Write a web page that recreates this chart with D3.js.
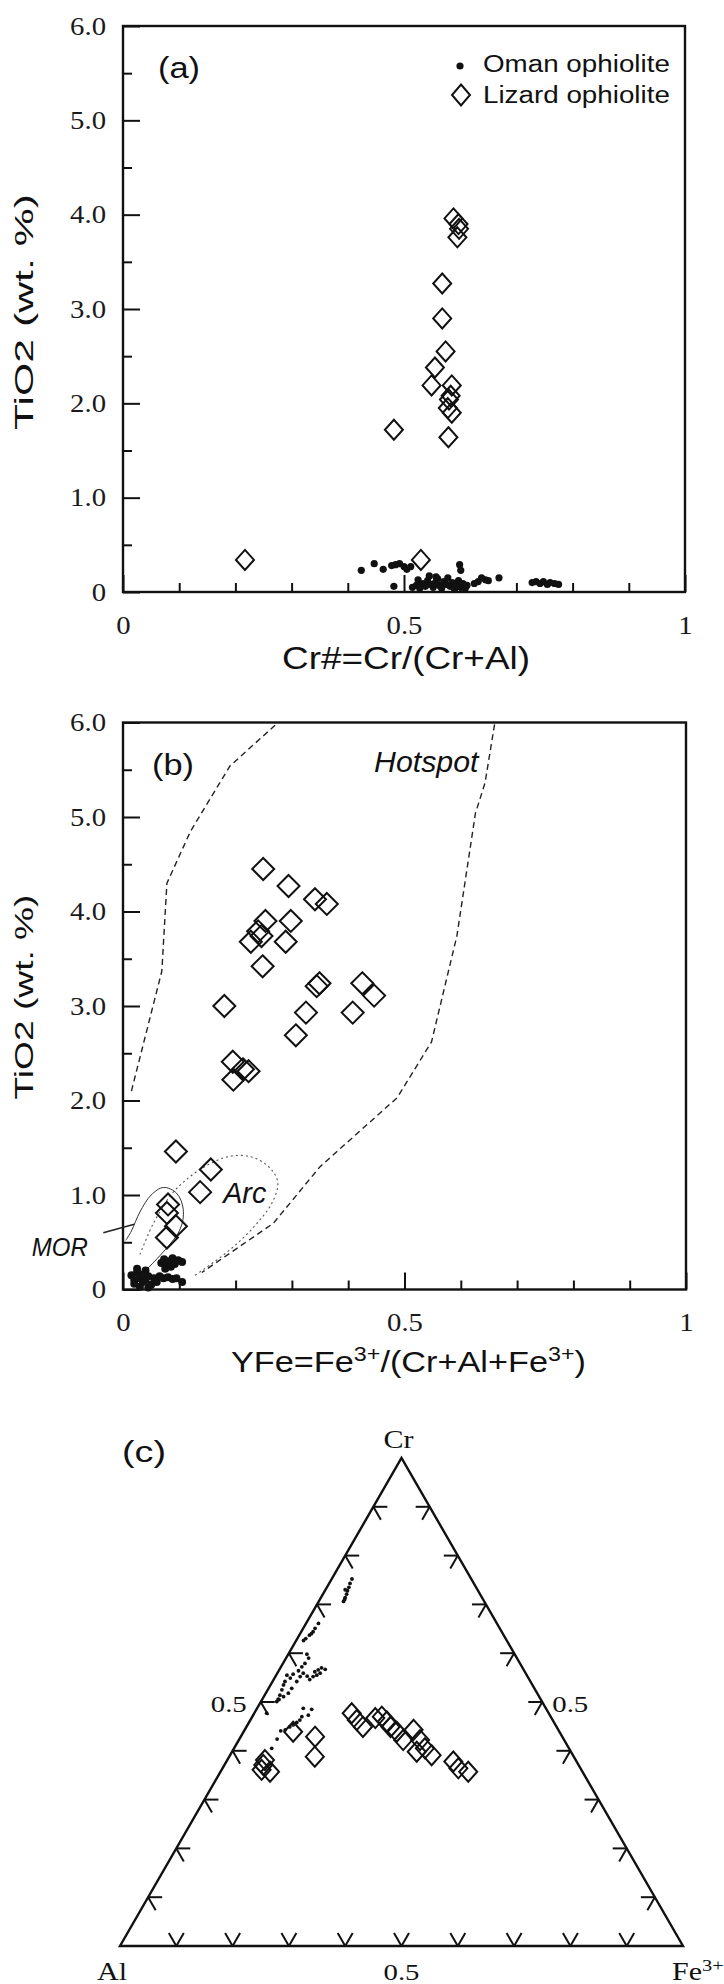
<!DOCTYPE html>
<html>
<head>
<meta charset="utf-8">
<script src="https://cdn.jsdelivr.net/npm/d3@7"></script>
<style>
  body { margin: 0; background: #fff; }
  svg { display: block; }
</style>
</head>
<body>
<script>
// ---- data ----
var yTicksMajor = [0, 1, 2, 3, 4, 5, 6];
var yTicksMinor = [0.5, 1.5, 2.5, 3.5, 4.5, 5.5];
var xTicksMajor = [0, 0.5, 1];
var xTicksMinor = [0.1, 0.2, 0.3, 0.4, 0.6, 0.7, 0.8, 0.9];
var ternTicks = [0.1, 0.2, 0.3, 0.4, 0.5, 0.6, 0.7, 0.8, 0.9];

// (a) Cr# vs TiO2
var omanA = [[0.424,0.23],[0.447,0.30],[0.463,0.24],[0.478,0.28],[0.485,0.29],[0.492,0.30],[0.500,0.27],[0.505,0.24],[0.512,0.27],[0.482,0.06],
  [0.515,0.05],[0.522,0.07],[0.528,0.04],[0.533,0.09],[0.538,0.06],[0.542,0.12],[0.547,0.08],[0.552,0.05],[0.556,0.10],[0.560,0.14],
  [0.563,0.07],[0.567,0.04],[0.571,0.11],[0.575,0.08],[0.578,0.15],[0.582,0.06],[0.586,0.10],[0.590,0.03],[0.594,0.08],[0.597,0.12],
  [0.601,0.05],[0.605,0.09],[0.609,0.04],[0.612,0.07],[0.599,0.29],[0.601,0.23],[0.545,0.17],[0.525,0.13],[0.557,0.16],
  [0.625,0.09],[0.632,0.11],[0.638,0.15],[0.645,0.13],[0.650,0.12],[0.669,0.15],
  [0.728,0.10],[0.735,0.11],[0.742,0.09],[0.748,0.11],[0.755,0.08],[0.760,0.10],[0.768,0.09],[0.775,0.08]];
var lizardA = [[0.217,0.34],[0.482,1.72],[0.530,0.34],[0.588,3.96],[0.597,3.90],[0.598,3.85],[0.595,3.76],[0.568,3.27],
  [0.568,2.90],[0.574,2.55],[0.555,2.38],[0.549,2.19],[0.585,2.19],[0.580,2.04],[0.578,1.95],[0.585,1.90],[0.579,1.64],[0.583,2.08]];

// (b) YFe vs TiO2
var omanB = [[0.015,0.15],[0.02,0.10],[0.025,0.18],[0.03,0.12],[0.035,0.08],[0.04,0.20],[0.045,0.14],[0.05,0.05],[0.02,0.06],[0.03,0.03],
  [0.04,0.10],[0.055,0.12],[0.06,0.08],[0.045,0.02],[0.035,0.16],[0.025,0.22],
  [0.065,0.14],[0.072,0.12],[0.08,0.13],[0.088,0.11],[0.095,0.12],[0.105,0.08],
  [0.068,0.28],[0.073,0.32],[0.078,0.26],[0.082,0.30],[0.088,0.33],[0.092,0.27],[0.098,0.31],[0.105,0.29],[0.075,0.22],[0.085,0.24]];
var lizardB = [[0.249,4.45],[0.294,4.27],[0.341,4.13],[0.362,4.08],[0.253,3.90],[0.298,3.90],[0.240,3.79],[0.246,3.74],[0.227,3.68],
  [0.289,3.68],[0.248,3.42],[0.349,3.24],[0.344,3.21],[0.425,3.24],[0.446,3.11],[0.180,3.00],[0.325,2.93],[0.408,2.93],[0.307,2.69],
  [0.195,2.41],[0.213,2.33],[0.223,2.31],[0.196,2.22],[0.094,1.46],[0.156,1.27],[0.137,1.03],[0.080,0.90],[0.078,0.81],[0.094,0.67],[0.078,0.55]];
var hotspotLeft = [[0.015,2.10],[0.069,3.37],[0.078,4.30],[0.12,4.85],[0.19,5.54],[0.27,5.97]];
var hotspotRight = [[0.66,5.98],[0.643,5.36],[0.626,5.04],[0.593,3.74],[0.556,2.82],[0.548,2.62],[0.487,2.03],[0.35,1.30],[0.267,0.70],[0.14,0.18]];
var arcField = [[0.03,0.37],[0.054,0.70],[0.085,1.0],[0.11,1.15],[0.145,1.30],[0.19,1.41],[0.23,1.40],[0.262,1.28],[0.275,1.13],
  [0.265,0.92],[0.235,0.68],[0.19,0.42],[0.128,0.15]];
var morField = [[0.04,0.20],[0.10,0.62],[0.107,0.85],[0.095,1.02],[0.072,1.08],[0.05,1.0],[0.03,0.82],[0.015,0.62],[0.005,0.52]];
var morLeader = [[-0.035,0.60],[0.02,0.69]];

// (c) ternary, [Cr, Fe3+] fractions (Al = 1 - Cr - Fe3+)
var omanC = [[0.752,0.036],[0.743,0.037],[0.735,0.039],[0.728,0.040],[0.721,0.042],[0.714,0.043],[0.706,0.044],[0.710,0.044],[0.730,0.035],
  [0.661,0.022],[0.651,0.021],[0.644,0.021],[0.637,0.018],[0.630,0.015],[0.626,0.013],[0.640,0.020],
  [0.598,0.033],[0.590,0.040],[0.579,0.039],[0.572,0.037],[0.564,0.035],[0.557,0.029],[0.549,0.028],[0.542,0.022],[0.535,0.023],
  [0.525,0.025],[0.514,0.027],[0.506,0.028],[0.501,0.028],[0.555,0.019],[0.528,0.041],[0.518,0.040],[0.511,0.035],[0.542,0.043],
  [0.552,0.044],[0.559,0.046],[0.505,0.030],
  [0.567,0.081],[0.570,0.073],[0.566,0.069],[0.555,0.072],[0.552,0.067],[0.546,0.064],[0.553,0.056],[0.559,0.076],[0.562,0.065],
  [0.477,0.022],
  [0.485,0.098],[0.473,0.098],[0.487,0.082],[0.470,0.088],[0.463,0.088],[0.458,0.085],[0.453,0.081],[0.449,0.077],[0.443,0.072],
  [0.441,0.065],[0.424,0.067],[0.405,0.067]];
var lizardC = [[0.477,0.173],[0.463,0.189],[0.449,0.207],[0.467,0.220],[0.470,0.230],[0.460,0.244],[0.449,0.256],[0.439,0.272],
  [0.422,0.292],[0.443,0.300],[0.422,0.322],[0.398,0.328],[0.405,0.339],[0.391,0.358],[0.378,0.403],[0.364,0.419],[0.357,0.440],
  [0.439,0.088],[0.429,0.132],[0.388,0.152],[0.381,0.067],[0.361,0.071],[0.357,0.088],[0.371,0.069]];

// ---- drawing ----
var W = 724, H = 1984;
var SANS = "'Liberation Sans', Arial, sans-serif";
var SERIF = "'Liberation Serif', 'Times New Roman', serif";

var svg = d3.select("body").append("svg").attr("width", W).attr("height", H);

// text helper: draws at 0,0 then squeezes/stretches to the target width
function label(g, str, x, y, o) {
  var t = g.append("text")
    .attr("font-family", o.family || SANS)
    .attr("font-size", o.size)
    .attr("font-style", o.italic ? "italic" : null)
    .attr("text-anchor", o.anchor || "start")
    .attr("fill", "#111");
  if (o.parts) {
    o.parts.forEach(function(p) {
      var s = t.append("tspan").text(p[0]);
      if (p[1]) s.attr("font-size", o.size * 0.68).attr("baseline-shift", "super");
    });
  } else {
    t.text(str);
  }
  var k = o.sx || 1;
  if (o.width) k = o.width / t.node().getBBox().width;
  var rot = o.rotate ? " rotate(" + o.rotate + ")" : "";
  t.attr("transform", "translate(" + x + "," + y + ")" + rot + " scale(" + k + ",1)");
  return t;
}

function diamond(w, h) {
  return "M0," + (-h) + "L" + w + ",0L0," + h + "L" + (-w) + ",0Z";
}

var TICK_SX = 1.15;

function scatterFrame(g, x, y) {
  var fmtY = function(d) { return d === 0 ? "0" : d.toFixed(1); };
  var fmtX = function(d) { return d === 0 ? "0" : d === 1 ? "1" : "0.5"; };

  g.append("g").attr("transform", "translate(" + x.range()[0] + ",0)")
    .call(d3.axisLeft(y).tickValues(yTicksMinor).tickSize(-9).tickFormat(""));
  var ya = g.append("g").attr("transform", "translate(" + x.range()[0] + ",0)")
    .call(d3.axisLeft(y).tickValues(yTicksMajor).tickSize(-17).tickPadding(17).tickFormat(fmtY));
  g.append("g").attr("transform", "translate(0," + y.range()[0] + ")")
    .call(d3.axisBottom(x).tickValues(xTicksMinor).tickSize(-9).tickFormat(""));
  var xa = g.append("g").attr("transform", "translate(0," + y.range()[0] + ")")
    .call(d3.axisBottom(x).tickValues(xTicksMajor).tickSize(-17).tickPadding(24).tickFormat(fmtX));

  g.selectAll(".domain").remove();
  g.selectAll(".tick line").attr("stroke", "#111").attr("stroke-width", 2);
  g.selectAll(".tick text").attr("font-family", SERIF).attr("font-size", 25).attr("fill", "#1a1a1a");
  // widen the serif tick labels a little, keeping their anchor point
  ya.selectAll(".tick text").attr("x", -17 / TICK_SX).attr("transform", "scale(" + TICK_SX + ",1)");
  xa.selectAll(".tick text").attr("transform", "scale(" + TICK_SX + ",1)");

  g.append("rect")
    .attr("x", x.range()[0]).attr("y", y.range()[1])
    .attr("width", x.range()[1] - x.range()[0])
    .attr("height", y.range()[0] - y.range()[1])
    .attr("fill", "none").attr("stroke", "#111").attr("stroke-width", 2.4);
}

// ---------- panel (a) ----------
var xA = d3.scaleLinear().domain([0, 1]).range([123, 685]);
var yA = d3.scaleLinear().domain([0, 6]).range([592, 26]);
var gA = svg.append("g");
scatterFrame(gA, xA, yA);

gA.selectAll("path.liz").data(lizardA).enter().append("path")
  .attr("class", "liz")
  .attr("d", diamond(9, 10))
  .attr("transform", function(d) { return "translate(" + xA(d[0]) + "," + yA(d[1]) + ")"; })
  .attr("fill", "none").attr("stroke", "#111").attr("stroke-width", 2);
gA.selectAll("circle.om").data(omanA).enter().append("circle")
  .attr("class", "om")
  .attr("cx", function(d) { return xA(d[0]); })
  .attr("cy", function(d) { return yA(d[1]); })
  .attr("r", 3.6).attr("fill", "#111");

label(gA, "(a)", 158, 78, {size: 30, width: 42});
// legend
gA.append("circle").attr("cx", 460).attr("cy", 66).attr("r", 3.6).attr("fill", "#111");
label(gA, "Oman ophiolite", 483, 72, {size: 24, width: 187});
gA.append("path").attr("d", diamond(9, 10.5)).attr("transform", "translate(461,95)")
  .attr("fill", "none").attr("stroke", "#111").attr("stroke-width", 2);
label(gA, "Lizard ophiolite", 483, 103, {size: 24, width: 187});

label(gA, "TiO2 (wt. %)", 33, 312, {size: 26, width: 236, rotate: -90, anchor: "middle"});
label(gA, "Cr#=Cr/(Cr+Al)", 406, 669, {size: 32, width: 248, anchor: "middle"});

// ---------- panel (b) ----------
var xB = d3.scaleLinear().domain([0, 1]).range([123, 686]);
var yB = d3.scaleLinear().domain([0, 6]).range([1289.5, 722.5]);
var gB = svg.append("g");
scatterFrame(gB, xB, yB);

var lineB = d3.line().x(function(d) { return xB(d[0]); }).y(function(d) { return yB(d[1]); });
var curveB = d3.line().curve(d3.curveCatmullRom).x(function(d) { return xB(d[0]); }).y(function(d) { return yB(d[1]); });

gB.append("path").datum(hotspotLeft).attr("d", lineB)
  .attr("fill", "none").attr("stroke", "#222").attr("stroke-width", 1.4).attr("stroke-dasharray", "6,4");
gB.append("path").datum(hotspotRight).attr("d", lineB)
  .attr("fill", "none").attr("stroke", "#222").attr("stroke-width", 1.4).attr("stroke-dasharray", "6,4");
gB.append("path").datum(arcField).attr("d", curveB)
  .attr("fill", "none").attr("stroke", "#555").attr("stroke-width", 1.1).attr("stroke-dasharray", "2,3");
gB.append("path").datum(morField).attr("d", curveB)
  .attr("fill", "none").attr("stroke", "#333").attr("stroke-width", 1);
gB.append("path").datum(morLeader).attr("d", lineB)
  .attr("fill", "none").attr("stroke", "#222").attr("stroke-width", 1.5);

gB.selectAll("path.liz").data(lizardB).enter().append("path")
  .attr("class", "liz")
  .attr("d", diamond(11, 11))
  .attr("transform", function(d) { return "translate(" + xB(d[0]) + "," + yB(d[1]) + ")"; })
  .attr("fill", "none").attr("stroke", "#111").attr("stroke-width", 2);
gB.selectAll("circle.om").data(omanB).enter().append("circle")
  .attr("class", "om")
  .attr("cx", function(d) { return xB(d[0]); })
  .attr("cy", function(d) { return yB(d[1]); })
  .attr("r", 4).attr("fill", "#111");

label(gB, "(b)", 152, 775, {size: 30, width: 42});
label(gB, "Hotspot", xB(0.446), yB(5.48), {size: 30, width: 106, italic: true});
label(gB, "Arc", xB(0.178), yB(0.915), {size: 30, width: 45, italic: true});
label(gB, "MOR", xB(-0.162), yB(0.355), {size: 26, width: 56, italic: true});

label(gB, "TiO2 (wt. %)", 33, 997, {size: 26, width: 205, rotate: -90, anchor: "middle"});
label(gB, "", 231, 1372, {size: 29, width: 355,
  parts: [["YFe=Fe"], ["3+", 1], ["/(Cr+Al+Fe"], ["3+", 1], [")"]]});

// ---------- panel (c) ternary ----------
var tx = d3.scaleLinear().domain([0, 1]).range([120, 683]);   // horizontal: Fe3+ + Cr/2
var ty = d3.scaleLinear().domain([0, 1]).range([1946, 1458]); // vertical: Cr
function proj(cr, fe) { return [tx(fe + cr / 2), ty(cr)]; }

var gC = svg.append("g");
var corners = [proj(0, 0), proj(0, 1), proj(1, 0)];
gC.append("path").attr("d", "M" + corners.join("L") + "Z")
  .attr("fill", "none").attr("stroke", "#111").attr("stroke-width", 2.4);

var tk = [];
ternTicks.forEach(function(t) {
  var p = proj(t, 0), q = proj(t, 1 - t), r = proj(0, t);
  tk.push([p, [p[0] + 14, p[1]]], [p, [p[0] + 7.5, p[1] + 13]]);
  tk.push([q, [q[0] - 14, q[1]]], [q, [q[0] - 7.5, q[1] + 13]]);
  tk.push([r, [r[0] - 7.5, r[1] - 13]], [r, [r[0] + 7.5, r[1] - 13]]);
});
gC.selectAll("line.tk").data(tk).enter().append("line")
  .attr("class", "tk")
  .attr("x1", function(d) { return d[0][0]; }).attr("y1", function(d) { return d[0][1]; })
  .attr("x2", function(d) { return d[1][0]; }).attr("y2", function(d) { return d[1][1]; })
  .attr("stroke", "#111").attr("stroke-width", 2);

gC.selectAll("path.liz").data(lizardC).enter().append("path")
  .attr("class", "liz")
  .attr("d", diamond(9, 10))
  .attr("transform", function(d) { return "translate(" + proj(d[0], d[1]) + ")"; })
  .attr("fill", "none").attr("stroke", "#111").attr("stroke-width", 2);
gC.selectAll("circle.om").data(omanC).enter().append("circle")
  .attr("class", "om")
  .attr("cx", function(d) { return proj(d[0], d[1])[0]; })
  .attr("cy", function(d) { return proj(d[0], d[1])[1]; })
  .attr("r", 1.9).attr("fill", "#111");

var mid = 0.5;
label(gC, "0.5", proj(mid, 0)[0] - 14, proj(mid, 0)[1] + 10, {size: 24, sx: 1.2, family: SERIF, anchor: "end"});
label(gC, "0.5", proj(mid, mid)[0] + 10, proj(mid, mid)[1] + 10, {size: 24, sx: 1.2, family: SERIF});
label(gC, "0.5", proj(0, mid)[0], 1980, {size: 24, sx: 1.2, family: SERIF, anchor: "middle"});
label(gC, "Al", proj(0, 0)[0] - 8, 1980, {size: 25, sx: 1.2, family: SERIF, anchor: "middle"});
label(gC, "Cr", proj(1, 0)[0] - 3, 1448, {size: 25, sx: 1.2, family: SERIF, anchor: "middle"});
label(gC, "", 672, 1980, {size: 25, sx: 1.2, family: SERIF, parts: [["Fe"], ["3+", 1]]});
label(gC, "(c)", 122, 1462, {size: 30, width: 44});
</script>
</body>
</html>
